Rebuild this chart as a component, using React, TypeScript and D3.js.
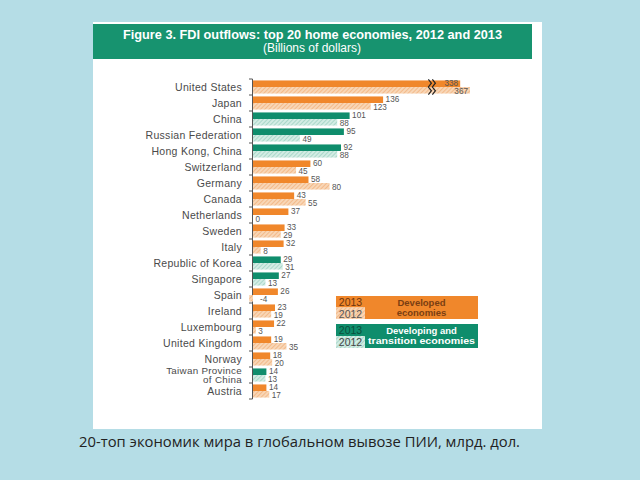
import React from "react";
import * as d3 from "d3";

const categories = [
  "United States", "Japan", "China", "Russian Federation", "Hong Kong, China",
  "Switzerland", "Germany", "Canada", "Netherlands", "Sweden", "Italy",
  "Republic of Korea", "Singapore", "Spain", "Ireland", "Luxembourg",
  "United Kingdom", "Norway", "Taiwan Province of China", "Austria",
];
const values2013 = [338, 136, 101, 95, 92, 60, 58, 43, 37, 33, 32, 29, 27, 26, 23, 22, 19, 18, 14, 14];
const values2012 = [367, 123, 88, 49, 88, 45, 80, 55, 0, 29, 8, 31, 13, -4, 19, 3, 35, 20, 13, 17];
const groups = ["dev", "dev", "tr", "tr", "tr", "dev", "dev", "dev", "dev", "dev", "dev", "tr", "tr", "dev", "dev", "dev", "dev", "dev", "tr", "dev"];
const years = ["2013", "2012"];
const breakValue = 250;
const labelLines: Record<string, string[]> = {
  "Taiwan Province of China": ["Taiwan Province", "of China"],
};

const BG = "#b5dde6";
const ORANGE = "#f0872b";
const GREEN = "#0f8d6c";
const HEADER = "#17936f";

export default function App() {
  const x = d3.scaleLinear().domain([0, 150, 367]).range([253, 396.5, 470]);
  const y = d3.scaleBand<string>().domain(categories).range([79, 399]).paddingInner(0.18).paddingOuter(0.09);
  const sub = d3.scaleBand<string>().domain(years).range([0, y.bandwidth()]).padding(0);
  const step = y.step();
  const boundaries = d3.range(categories.length + 1).map((i) => 79 + i * step);

  const fillFor = (g: string, yr: string) =>
    yr === "2013" ? (g === "dev" ? ORANGE : GREEN) : g === "dev" ? "url(#hatchO)" : "url(#hatchG)";

  const usY = y(categories[0])!;
  const bx = x(breakValue);
  const zig = (x0: number) => {
    const pts: string[] = [];
    const top = usY - 1;
    const h = y.bandwidth() + 2;
    const n = 4;
    for (let i = 0; i <= n; i++) {
      const yy = top + (h * i) / n;
      pts.push(`${x0 + (i % 2 === 0 ? 0 : 3)},${yy}`);
    }
    return pts.join(" ");
  };

  return (
    <svg width={640} height={480} style={{ position: "absolute", left: 0, top: 0 }} fontFamily="Liberation Sans, Arial, sans-serif">
      <defs>
        <pattern id="hatchO" patternUnits="userSpaceOnUse" width={3} height={3} patternTransform="rotate(45)">
          <rect width={3} height={3} fill="#f8d6b6" />
          <line x1={0} y1={0} x2={0} y2={3} stroke="#f1a76c" strokeWidth={1.2} />
        </pattern>
        <pattern id="hatchG" patternUnits="userSpaceOnUse" width={3} height={3} patternTransform="rotate(45)">
          <rect width={3} height={3} fill="#d3ece4" />
          <line x1={0} y1={0} x2={0} y2={3} stroke="#8fcbb9" strokeWidth={1.2} />
        </pattern>
      </defs>
      <rect x={0} y={0} width={640} height={480} fill={BG} />
      <rect x={93} y={22} width={449} height={407} fill="#ffffff" />
      <rect x={93} y={24} width={439} height={35} fill={HEADER} />
      <text x={312.5} y={39} textAnchor="middle" fill="#ffffff" fontWeight="bold" fontSize={13.5} textLength={379} lengthAdjust="spacingAndGlyphs">
        Figure 3. FDI outflows: top 20 home economies, 2012 and 2013
      </text>
      <text x={312} y={51.5} textAnchor="middle" fill="#ffffff" fontSize={12}>
        (Billions of dollars)
      </text>

      {/* axis */}
      <line x1={252.5} x2={252.5} y1={79} y2={399} stroke="#555" strokeWidth={1} />
      {boundaries.map((b, i) => (
        <line key={i} x1={249} x2={252.5} y1={b} y2={b} stroke="#555" strokeWidth={1} />
      ))}

      {categories.map((c, i) => {
        const cy = y(c)! + y.bandwidth() / 2;
        const lines = labelLines[c] || [c];
        const multi = lines.length > 1;
        const g = groups[i];
        const vals = [values2013[i], values2012[i]];
        return (
          <g key={c}>
            {lines.map((ln, k) => (
              <text key={k} x={242} y={cy + (multi ? 3.3 : 3.8) + (k - (lines.length - 1) / 2) * 8.4} textAnchor="end" fontSize={multi ? 9.8 : 10.5} letterSpacing={0.3} fill="#4a4a4a">
                {ln}
              </text>
            ))}
            {years.map((yr, k) => {
              const v = vals[k];
              const by = y(c)! + sub(yr)!;
              const x0 = x(Math.min(0, v));
              const x1 = x(Math.max(0, v));
              const isUS = i === 0;
              const lx = isUS ? x1 - 2 : v < 0 ? x(0) + 7 : x1 + 2.5;
              const dy = k === 0 ? -0.8 : 0.8;
              return (
                <g key={yr}>
                  <rect x={x0} y={by} width={Math.max(0, x1 - x0)} height={sub.bandwidth()} fill={fillFor(g, yr)} />
                  <text x={lx} y={by + sub.bandwidth() / 2 + 2.8 + dy} fontSize={8.2} fill="#555" textAnchor={isUS ? "end" : "start"}>
                    {v}
                  </text>
                </g>
              );
            })}
          </g>
        );
      })}

      {/* break marks */}
      <polyline points={zig(bx - 2)} fill="none" stroke="#222" strokeWidth={1.2} />
      <polyline points={zig(bx + 2)} fill="none" stroke="#222" strokeWidth={1.2} />

      {/* legend */}
      <g>
        <rect x={336} y={296} width={29} height={11.5} fill={ORANGE} />
        <rect x={336} y={307.5} width={29} height={11.5} fill="url(#hatchO)" />
        <rect x={365} y={296} width={113} height={23} fill={ORANGE} />
        <text x={350.5} y={305.5} textAnchor="middle" fontSize={10.5} fill="#6b3510">2013</text>
        <text x={350.5} y={317.5} textAnchor="middle" fontSize={10.5} fill="#555">2012</text>
        <text x={421.5} y={305.5} textAnchor="middle" fontSize={9.5} fontWeight="bold" fill="#7a3e12">Developed</text>
        <text x={421.5} y={315.5} textAnchor="middle" fontSize={9.5} fontWeight="bold" fill="#7a3e12">economies</text>

        <rect x={336} y={324} width={29} height={12} fill={GREEN} />
        <rect x={336} y={336} width={29} height={12} fill="url(#hatchG)" />
        <rect x={365} y={324} width={113} height={24} fill={GREEN} />
        <text x={350.5} y={334} textAnchor="middle" fontSize={10.5} fill="#0a4f3c">2013</text>
        <text x={350.5} y={346} textAnchor="middle" fontSize={10.5} fill="#444">2012</text>
        <text x={421.5} y={333.5} textAnchor="middle" fontSize={9.5} fontWeight="bold" fill="#ffffff">Developing and</text>
        <text x={421.5} y={344} textAnchor="middle" fontSize={9.5} fontWeight="bold" fill="#ffffff" textLength={107} lengthAdjust="spacingAndGlyphs">transition economies</text>
      </g>

      <text x={79} y={447} fontSize={15} fill="#222" fontFamily="Open Sans, sans-serif" textLength={441} lengthAdjust="spacingAndGlyphs">
        20-топ экономик мира в глобальном вывозе ПИИ, млрд. дол.
      </text>
    </svg>
  );
}
